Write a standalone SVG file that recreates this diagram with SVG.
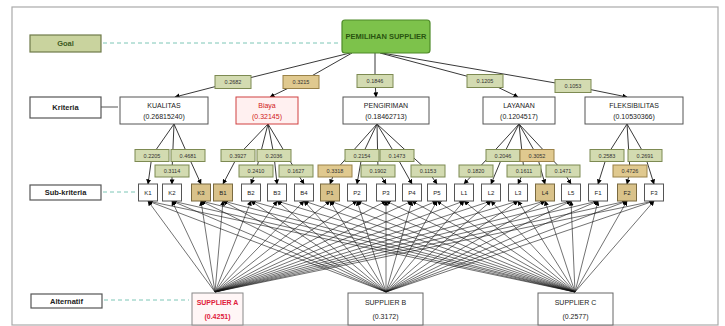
<svg xmlns="http://www.w3.org/2000/svg" width="725" height="326" viewBox="0 0 725 326">
<defs>
<marker id="ah" viewBox="0 0 6 6" refX="5.5" refY="3" markerWidth="5" markerHeight="5" orient="auto-start-reverse" markerUnits="userSpaceOnUse"><path d="M0,0 L6,3 L0,6 z" fill="#000"/></marker>
<style>
text{font-family:"Liberation Sans",Arial,sans-serif;text-anchor:middle;dominant-baseline:central}
.lvl{fill:#fff;stroke:#555;stroke-width:1.2}
.lvlg{fill:#c9d39e;stroke:#6f7b4a;stroke-width:1.2}
.lt{font-size:7.5px;font-weight:bold;fill:#222}
.crit{fill:#fff;stroke:#555;stroke-width:1}
.critr{fill:#fff0f0;stroke:#d04040;stroke-width:1}
.ct{font-size:7px;fill:#222}
.ctr{font-size:7px;fill:#d02020}
.wl{fill:#d3dbb1;stroke:#7d8a52;stroke-width:1}
.wt{fill:#e0c98f;stroke:#9a8248;stroke-width:1}
.wtx{font-size:5.5px;fill:#333}
.sub{fill:#fff;stroke:#555;stroke-width:1}
.subt{fill:#d9c28a;stroke:#7a6a40;stroke-width:1}
.st{font-size:6px;fill:#222}
.e{fill:none;stroke:#222;stroke-width:0.9}
.a{stroke:#111;stroke-width:0.7;stroke-opacity:0.85}
.dash{stroke:#7cc6b6;stroke-width:1;stroke-dasharray:4 3;fill:none}
</style>
</defs>
<rect x="0" y="0" width="725" height="326" fill="#fff"/>
<rect x="12" y="7" width="706" height="318" fill="#fff" stroke="#aaa" stroke-width="1.2"/>

<g id="connectors">
<line class="dash" x1="103" y1="43" x2="338" y2="43"/>
<line class="dash" x1="103" y1="192" x2="135" y2="192"/>
<line class="dash" x1="104" y1="300" x2="189" y2="300"/>
<line x1="101" y1="107" x2="118" y2="107" stroke="#555" stroke-width="1"/>
<!-- goal to criteria -->
<path class="e" marker-end="url(#ah)" d="M350,53 L233,82 L175,97"/>
<path class="e" marker-end="url(#ah)" d="M352,53 L301,82 L270,97"/>
<path class="e" marker-end="url(#ah)" d="M375,53 L375,81 L376,97"/>
<path class="e" marker-end="url(#ah)" d="M380,53 L485,81 L518,97"/>
<path class="e" marker-end="url(#ah)" d="M382,53 L573,86 L627,97"/>
<!-- criteria to sub-criteria -->
<path class="e" marker-end="url(#ah)" d="M174,124 L152,155.5 L148,184"/>
<path class="e" marker-end="url(#ah)" d="M174,124 L172,171 L172,184"/>
<path class="e" marker-end="url(#ah)" d="M174,124 L188,155.5 L201,184"/>
<path class="e" marker-end="url(#ah)" d="M268,124 L238,155.5 L223,184"/>
<path class="e" marker-end="url(#ah)" d="M268,124 L256,171 L251,184"/>
<path class="e" marker-end="url(#ah)" d="M268,124 L274,155.5 L277,184"/>
<path class="e" marker-end="url(#ah)" d="M268,124 L296,171 L304,184"/>
<path class="e" marker-end="url(#ah)" d="M377,124 L335,171 L330,184"/>
<path class="e" marker-end="url(#ah)" d="M377,124 L362,155.5 L357,184"/>
<path class="e" marker-end="url(#ah)" d="M377,124 L378,171 L386,184"/>
<path class="e" marker-end="url(#ah)" d="M377,124 L396,155.5 L412,184"/>
<path class="e" marker-end="url(#ah)" d="M377,124 L428,171 L437,184"/>
<path class="e" marker-end="url(#ah)" d="M519,124 L476,171 L464,184"/>
<path class="e" marker-end="url(#ah)" d="M519,124 L503,155.5 L491,184"/>
<path class="e" marker-end="url(#ah)" d="M519,124 L524,171 L518,184"/>
<path class="e" marker-end="url(#ah)" d="M519,124 L537,155.5 L545,184"/>
<path class="e" marker-end="url(#ah)" d="M519,124 L563,171 L571,184"/>
<path class="e" marker-end="url(#ah)" d="M627,124 L607,155.5 L598,184"/>
<path class="e" marker-end="url(#ah)" d="M627,124 L630,171 L627,184"/>
<path class="e" marker-end="url(#ah)" d="M627,124 L645,155.5 L654,184"/>
<!-- sub-criteria to alternatives -->
<g class="a" marker-start="url(#ah)">
<line x1="148" y1="201" x2="215" y2="292"/><line x1="148" y1="201" x2="386" y2="292"/><line x1="148" y1="201" x2="575" y2="292"/>
<line x1="172" y1="201" x2="215" y2="292"/><line x1="172" y1="201" x2="386" y2="292"/><line x1="172" y1="201" x2="575" y2="292"/>
<line x1="201" y1="201" x2="215" y2="292"/><line x1="201" y1="201" x2="386" y2="292"/><line x1="201" y1="201" x2="575" y2="292"/>
<line x1="223" y1="201" x2="215" y2="292"/><line x1="223" y1="201" x2="386" y2="292"/><line x1="223" y1="201" x2="575" y2="292"/>
<line x1="251" y1="201" x2="215" y2="292"/><line x1="251" y1="201" x2="386" y2="292"/><line x1="251" y1="201" x2="575" y2="292"/>
<line x1="277" y1="201" x2="215" y2="292"/><line x1="277" y1="201" x2="386" y2="292"/><line x1="277" y1="201" x2="575" y2="292"/>
<line x1="304" y1="201" x2="215" y2="292"/><line x1="304" y1="201" x2="386" y2="292"/><line x1="304" y1="201" x2="575" y2="292"/>
<line x1="330" y1="201" x2="215" y2="292"/><line x1="330" y1="201" x2="386" y2="292"/><line x1="330" y1="201" x2="575" y2="292"/>
<line x1="357" y1="201" x2="215" y2="292"/><line x1="357" y1="201" x2="386" y2="292"/><line x1="357" y1="201" x2="575" y2="292"/>
<line x1="386" y1="201" x2="215" y2="292"/><line x1="386" y1="201" x2="386" y2="292"/><line x1="386" y1="201" x2="575" y2="292"/>
<line x1="412" y1="201" x2="215" y2="292"/><line x1="412" y1="201" x2="386" y2="292"/><line x1="412" y1="201" x2="575" y2="292"/>
<line x1="437" y1="201" x2="215" y2="292"/><line x1="437" y1="201" x2="386" y2="292"/><line x1="437" y1="201" x2="575" y2="292"/>
<line x1="464" y1="201" x2="215" y2="292"/><line x1="464" y1="201" x2="386" y2="292"/><line x1="464" y1="201" x2="575" y2="292"/>
<line x1="491" y1="201" x2="215" y2="292"/><line x1="491" y1="201" x2="386" y2="292"/><line x1="491" y1="201" x2="575" y2="292"/>
<line x1="518" y1="201" x2="215" y2="292"/><line x1="518" y1="201" x2="386" y2="292"/><line x1="518" y1="201" x2="575" y2="292"/>
<line x1="545" y1="201" x2="215" y2="292"/><line x1="545" y1="201" x2="386" y2="292"/><line x1="545" y1="201" x2="575" y2="292"/>
<line x1="571" y1="201" x2="215" y2="292"/><line x1="571" y1="201" x2="386" y2="292"/><line x1="571" y1="201" x2="575" y2="292"/>
<line x1="598" y1="201" x2="215" y2="292"/><line x1="598" y1="201" x2="386" y2="292"/><line x1="598" y1="201" x2="575" y2="292"/>
<line x1="627" y1="201" x2="215" y2="292"/><line x1="627" y1="201" x2="386" y2="292"/><line x1="627" y1="201" x2="575" y2="292"/>
<line x1="654" y1="201" x2="215" y2="292"/><line x1="654" y1="201" x2="386" y2="292"/><line x1="654" y1="201" x2="575" y2="292"/>
</g>
</g>

<!-- level labels -->
<g id="lvl-goal"><rect class="lvlg" x="30" y="35" width="71" height="17"/><text class="lt" x="65.5" y="43.5" style="fill:#3d5a1e">Goal</text></g>
<g id="lvl-criteria"><rect class="lvl" x="30" y="97" width="71" height="21"/><text class="lt" x="65.5" y="107.5">Kriteria</text></g>
<g id="lvl-sub"><rect class="lvl" x="30" y="185" width="71" height="15"/><text class="lt" x="65.5" y="192.5">Sub-kriteria</text></g>
<g id="lvl-alt"><rect class="lvl" x="31" y="294" width="71" height="14"/><text class="lt" x="66.5" y="301">Alternatif</text></g>

<!-- goal -->
<g id="goal"><rect x="342" y="20" width="88" height="33" rx="3" fill="#7dc24b" stroke="#4e8a28" stroke-width="1.2"/><text x="386" y="36.5" style="font-size:7.5px;font-weight:bold;fill:#2a5510">PEMILIHAN SUPPLIER</text></g>

<!-- goal-criteria weights -->
<g id="w-c1"><rect class="wl" x="215" y="75.5" width="36" height="13"/><text class="wtx" x="233" y="82">0.2682</text></g>
<g id="w-c2"><rect class="wt" x="283" y="75.5" width="36" height="13"/><text class="wtx" x="301" y="82">0.3215</text></g>
<g id="w-c3"><rect class="wl" x="357" y="74.5" width="36" height="13"/><text class="wtx" x="375" y="81">0.1846</text></g>
<g id="w-c4"><rect class="wl" x="467" y="74.5" width="36" height="13"/><text class="wtx" x="485" y="81">0.1205</text></g>
<g id="w-c5"><rect class="wl" x="555" y="79.5" width="36" height="13"/><text class="wtx" x="573" y="86">0.1053</text></g>

<!-- criteria -->
<g id="c1"><rect class="crit" x="120" y="97" width="88" height="27"/><text class="ct" x="164" y="105">KUALITAS</text><text class="ct" x="164" y="116">(0.26815240)</text></g>
<g id="c2"><rect class="critr" x="236" y="97" width="62" height="27"/><text class="ctr" x="267" y="105">Biaya</text><text class="ctr" x="267" y="116">(0.32145)</text></g>
<g id="c3"><rect class="crit" x="343" y="97" width="86" height="27"/><text class="ct" x="386" y="105">PENGIRIMAN</text><text class="ct" x="386" y="116">(0.18462713)</text></g>
<g id="c4"><rect class="crit" x="483" y="97" width="72" height="27"/><text class="ct" x="519" y="105">LAYANAN</text><text class="ct" x="519" y="116">(0.1204517)</text></g>
<g id="c5"><rect class="crit" x="585" y="97" width="98" height="27"/><text class="ct" x="634" y="105">FLEKSIBILITAS</text><text class="ct" x="634" y="116">(0.10530366)</text></g>

<!-- criteria-sub weights -->
<g id="w-k1"><rect class="wl" x="135" y="149.5" width="34" height="12"/><text class="wtx" x="152" y="155.5">0.2205</text></g>
<g id="w-k2"><rect class="wl" x="155" y="165" width="34" height="12"/><text class="wtx" x="172" y="171">0.3114</text></g>
<g id="w-k3"><rect class="wl" x="171" y="149.5" width="34" height="12"/><text class="wtx" x="188" y="155.5">0.4681</text></g>
<g id="w-b1"><rect class="wl" x="221" y="149.5" width="34" height="12"/><text class="wtx" x="238" y="155.5">0.3927</text></g>
<g id="w-b2"><rect class="wl" x="239" y="165" width="34" height="12"/><text class="wtx" x="256" y="171">0.2410</text></g>
<g id="w-b3"><rect class="wl" x="257" y="149.5" width="34" height="12"/><text class="wtx" x="274" y="155.5">0.2036</text></g>
<g id="w-b4"><rect class="wl" x="279" y="165" width="34" height="12"/><text class="wtx" x="296" y="171">0.1627</text></g>
<g id="w-p1"><rect class="wt" x="318" y="165" width="34" height="12"/><text class="wtx" x="335" y="171">0.3318</text></g>
<g id="w-p2"><rect class="wl" x="345" y="149.5" width="34" height="12"/><text class="wtx" x="362" y="155.5">0.2154</text></g>
<g id="w-p3"><rect class="wl" x="361" y="165" width="34" height="12"/><text class="wtx" x="378" y="171">0.1902</text></g>
<g id="w-p4"><rect class="wl" x="380" y="149.5" width="34" height="12"/><text class="wtx" x="397" y="155.5">0.1473</text></g>
<g id="w-p5"><rect class="wl" x="411" y="165" width="34" height="12"/><text class="wtx" x="428" y="171">0.1153</text></g>
<g id="w-l1"><rect class="wl" x="459" y="165" width="34" height="12"/><text class="wtx" x="476" y="171">0.1820</text></g>
<g id="w-l2"><rect class="wl" x="486" y="149.5" width="34" height="12"/><text class="wtx" x="503" y="155.5">0.2046</text></g>
<g id="w-l3"><rect class="wl" x="507" y="165" width="34" height="12"/><text class="wtx" x="524" y="171">0.1611</text></g>
<g id="w-l4"><rect class="wt" x="520" y="149.5" width="34" height="12"/><text class="wtx" x="537" y="155.5">0.3052</text></g>
<g id="w-l5"><rect class="wl" x="546" y="165" width="34" height="12"/><text class="wtx" x="563" y="171">0.1471</text></g>
<g id="w-f1"><rect class="wl" x="590" y="149.5" width="34" height="12"/><text class="wtx" x="607" y="155.5">0.2583</text></g>
<g id="w-f2"><rect class="wt" x="613" y="165" width="34" height="12"/><text class="wtx" x="630" y="171">0.4726</text></g>
<g id="w-f3"><rect class="wl" x="628" y="149.5" width="34" height="12"/><text class="wtx" x="645" y="155.5">0.2691</text></g>

<!-- sub-criteria -->
<g id="s-k1"><rect class="sub" x="138.5" y="184" width="19" height="17"/><text class="st" x="148" y="192.5">K1</text></g>
<g id="s-k2"><rect class="sub" x="162.5" y="184" width="19" height="17"/><text class="st" x="172" y="192.5">K2</text></g>
<g id="s-k3"><rect class="subt" x="191.5" y="184" width="19" height="17"/><text class="st" x="201" y="192.5">K3</text></g>
<g id="s-b1"><rect class="subt" x="213.5" y="184" width="19" height="17"/><text class="st" x="223" y="192.5">B1</text></g>
<g id="s-b2"><rect class="sub" x="241.5" y="184" width="19" height="17"/><text class="st" x="251" y="192.5">B2</text></g>
<g id="s-b3"><rect class="sub" x="267.5" y="184" width="19" height="17"/><text class="st" x="277" y="192.5">B3</text></g>
<g id="s-b4"><rect class="sub" x="294.5" y="184" width="19" height="17"/><text class="st" x="304" y="192.5">B4</text></g>
<g id="s-p1"><rect class="subt" x="320.5" y="184" width="19" height="17"/><text class="st" x="330" y="192.5">P1</text></g>
<g id="s-p2"><rect class="sub" x="347.5" y="184" width="19" height="17"/><text class="st" x="357" y="192.5">P2</text></g>
<g id="s-p3"><rect class="sub" x="376.5" y="184" width="19" height="17"/><text class="st" x="386" y="192.5">P3</text></g>
<g id="s-p4"><rect class="sub" x="402.5" y="184" width="19" height="17"/><text class="st" x="412" y="192.5">P4</text></g>
<g id="s-p5"><rect class="sub" x="427.5" y="184" width="19" height="17"/><text class="st" x="437" y="192.5">P5</text></g>
<g id="s-l1"><rect class="sub" x="454.5" y="184" width="19" height="17"/><text class="st" x="464" y="192.5">L1</text></g>
<g id="s-l2"><rect class="sub" x="481.5" y="184" width="19" height="17"/><text class="st" x="491" y="192.5">L2</text></g>
<g id="s-l3"><rect class="sub" x="508.5" y="184" width="19" height="17"/><text class="st" x="518" y="192.5">L3</text></g>
<g id="s-l4"><rect class="subt" x="535.5" y="184" width="19" height="17"/><text class="st" x="545" y="192.5">L4</text></g>
<g id="s-l5"><rect class="sub" x="561.5" y="184" width="19" height="17"/><text class="st" x="571" y="192.5">L5</text></g>
<g id="s-f1"><rect class="sub" x="588.5" y="184" width="19" height="17"/><text class="st" x="598" y="192.5">F1</text></g>
<g id="s-f2"><rect class="subt" x="617.5" y="184" width="19" height="17"/><text class="st" x="627" y="192.5">F2</text></g>
<g id="s-f3"><rect class="sub" x="644.5" y="184" width="19" height="17"/><text class="st" x="654" y="192.5">F3</text></g>

<!-- alternatives -->
<g id="alt-a"><rect x="192" y="293" width="51" height="32" fill="#fff6f6" stroke="#888" stroke-width="1"/><text x="217.5" y="302" style="font-size:7px;font-weight:bold;fill:#e0203a">SUPPLIER A</text><text x="217.5" y="316" style="font-size:7px;font-weight:bold;fill:#e0203a">(0.4251)</text></g>
<g id="alt-b"><rect x="348" y="293" width="75" height="32" fill="#fff" stroke="#666" stroke-width="1"/><text class="ct" x="385.5" y="302">SUPPLIER B</text><text class="ct" x="385.5" y="316">(0.3172)</text></g>
<g id="alt-c"><rect x="538" y="293" width="75" height="32" fill="#fff" stroke="#666" stroke-width="1"/><text class="ct" x="575.5" y="302">SUPPLIER C</text><text class="ct" x="575.5" y="316">(0.2577)</text></g>
</svg>
